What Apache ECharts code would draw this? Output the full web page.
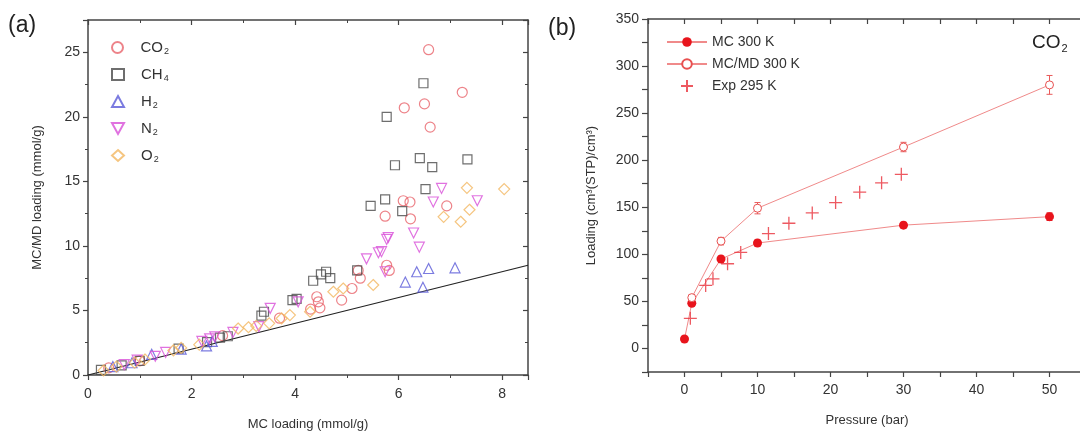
<!DOCTYPE html>
<html><head><meta charset="utf-8">
<script src="https://cdn.jsdelivr.net/npm/echarts@6/dist/echarts.min.js"></script>
<style>html,body{margin:0;padding:0;background:#fff}#c{width:1080px;height:432px}</style>
</head><body><div id="c"></div>
<script>
// ---------- Panel (a): MC/MD loading vs MC loading ----------
const gasNames = ['CO2', 'CH4', 'H2', 'N2', 'O2'];
const co2Pts = [[0.4,0.55],[1.0,1.1],[2.6,3.05],[3.7,4.4],[4.3,5.1],[4.42,6.06],[4.45,5.67],[4.48,5.2],[4.9,5.8],[5.1,6.7],[5.26,7.5],[5.22,8.1],[5.77,8.5],[5.82,8.1],[5.74,12.3],[6.09,13.5],[6.22,13.4],[6.23,12.1],[6.93,13.1],[6.11,20.7],[6.5,21.0],[6.61,19.2],[6.58,25.2],[7.23,21.9]];
const ch4Pts = [[0.25,0.4],[0.65,0.75],[1.0,1.1],[1.75,2.05],[2.3,2.55],[2.55,2.9],[2.7,3.0],[3.35,4.6],[3.4,4.9],[3.95,5.8],[4.03,5.9],[4.35,7.3],[4.5,7.8],[4.6,8.0],[4.68,7.5],[5.2,8.1],[5.46,13.1],[5.74,13.6],[5.77,20.0],[5.93,16.25],[6.07,12.7],[6.41,16.8],[6.48,22.6],[6.52,14.4],[6.65,16.1],[7.33,16.7]];
const h2Pts = [[0.48,0.65],[0.85,0.95],[1.23,1.6],[1.8,2.0],[2.29,2.25],[2.4,2.6],[6.13,7.2],[6.35,8.0],[6.58,8.25],[7.09,8.3],[6.47,6.8]];
const n2Pts = [[0.7,0.8],[0.95,1.15],[1.3,1.45],[1.5,1.75],[2.2,2.6],[2.35,2.8],[2.45,2.95],[2.8,3.3],[3.3,3.75],[3.52,5.16],[4.06,5.67],[5.38,9.0],[5.61,9.47],[5.77,10.5],[5.67,9.55],[5.8,10.65],[6.29,11.0],[6.4,9.9],[5.74,8.0],[6.67,13.4],[6.83,14.45],[7.52,13.5]];
const o2Pts = [[0.3,0.35],[0.55,0.65],[0.9,0.95],[1.1,1.2],[1.65,1.9],[1.8,2.1],[2.15,2.35],[2.9,3.6],[3.1,3.7],[3.25,3.8],[3.5,4.0],[3.74,4.38],[3.9,4.64],[4.29,4.9],[4.74,6.45],[4.93,6.7],[5.51,6.97],[6.87,12.25],[7.2,11.87],[7.37,12.8],[7.32,14.5],[8.04,14.4]];
const parityX = [0, 8.5];

// ---------- Panel (b): CO2 loading vs pressure ----------
const seriesBNames = ['MC 300 K', 'MC/MD 300 K', 'Exp 295 K'];
const mcP = [0, 1, 5, 10, 30, 50];
const mcLoad = [10, 48, 95, 112, 131, 140];
const mcErr = [0, 2, 3, 3, 3, 4];
const mcmdP = [1, 5, 10, 30, 50];
const mcmdLoad = [54, 114, 149, 214, 280];
const mcmdErr = [3, 4, 6, 5, 10];
const expP = [0.8, 2.9, 3.9, 5.9, 7.7, 11.5, 14.3, 17.5, 20.7, 24, 27, 29.7];
const expLoad = [32, 67, 74, 90, 102, 122, 133, 144, 155, 166, 176, 185];

const gasColors = ['#e8646c', '#4a4a4a', '#5a5ad8', '#d84fd8', '#f2b660'];
const gasSymbols = ['circle', 'rect', 'triangle', 'path://M0,0L10,0L5,9Z', 'diamond'];
const gasSizes = [10, 9, 10, 10, 11];
const gasData = [co2Pts, ch4Pts, h2Pts, n2Pts, o2Pts];

const FONT = 'Liberation Sans, Arial, sans-serif';
const axisCol = '#444';
const txtCol = '#333';

function subName(name) {
  return '{n|' + name.slice(0, -1) + '}{s|' + name.slice(-1) + '}';
}

const baseAxis = {
  axisLine: {show: true, onZero: false, lineStyle: {color: axisCol, width: 1.5}},
  splitLine: {show: false},
  axisLabel: {color: txtCol, fontSize: 14, fontFamily: FONT},
  axisTick: {show: true, length: 5, lineStyle: {color: axisCol, width: 1.2}},
  minorTick: {show: true, splitNumber: 2, length: 3, lineStyle: {color: axisCol, width: 1}}
};
function ax(extra) { return Object.assign({}, JSON.parse(JSON.stringify(baseAxis)), extra); }
function mirror(extra) {
  return Object.assign(ax({}), {axisLabel: {show: false}, axisTick: {show: true, inside: true, length: 5, lineStyle: {color: axisCol, width: 1.2}},
    minorTick: {show: true, splitNumber: 2, length: 3, lineStyle: {color: axisCol}}}, extra);
}

const chart = echarts.init(document.getElementById('c'), null, {renderer: 'canvas'});

const series = [];
gasNames.forEach((g, i) => {
  series.push({
    name: g, type: 'scatter', xAxisIndex: 0, yAxisIndex: 0,
    symbol: gasSymbols[i], symbolSize: gasSizes[i],
    itemStyle: {color: 'rgba(255,255,255,0)', borderColor: gasColors[i], borderWidth: 1.2},
    data: gasData[i], z: 3
  });
});
series.push({
  name: 'parity', type: 'line', xAxisIndex: 0, yAxisIndex: 0, symbol: 'none',
  data: parityX.map(v => [v, v]), lineStyle: {color: '#222', width: 1.2}, z: 2, silent: true
});

const redLine = '#f08a8a';
const red = '#e8141c';
function errSeries(xs, ys, es, col) {
  return {
    type: 'custom', xAxisIndex: 2, yAxisIndex: 2, z: 4, silent: true,
    data: xs.map((x, i) => [x, ys[i], es[i]]),
    renderItem: function (params, api) {
      const x = api.value(0), y = api.value(1), e = api.value(2);
      if (!e) return null;
      const t = api.coord([x, y + e]), b = api.coord([x, y - e]);
      const st = {stroke: col, lineWidth: 1};
      return {type: 'group', children: [
        {type: 'line', shape: {x1: t[0], y1: t[1], x2: b[0], y2: b[1]}, style: st},
        {type: 'line', shape: {x1: t[0] - 3, y1: t[1], x2: t[0] + 3, y2: t[1]}, style: st},
        {type: 'line', shape: {x1: b[0] - 3, y1: b[1], x2: b[0] + 3, y2: b[1]}, style: st}
      ]};
    }
  };
}
series.push(errSeries(mcP, mcLoad, mcErr, red));
series.push(errSeries(mcmdP, mcmdLoad, mcmdErr, '#e85a5a'));
series.push({
  name: seriesBNames[0], type: 'line', xAxisIndex: 2, yAxisIndex: 2,
  data: mcP.map((p, i) => [p, mcLoad[i]]),
  symbol: 'circle', symbolSize: 9, itemStyle: {color: red},
  lineStyle: {color: redLine, width: 1}, z: 5
});
series.push({
  name: seriesBNames[1], type: 'line', xAxisIndex: 2, yAxisIndex: 2,
  data: mcmdP.map((p, i) => [p, mcmdLoad[i]]),
  symbol: 'circle', symbolSize: 8,
  itemStyle: {color: '#fff', borderColor: '#e85050', borderWidth: 1},
  lineStyle: {color: redLine, width: 1}, z: 5
});
series.push({
  name: seriesBNames[2], type: 'scatter', xAxisIndex: 2, yAxisIndex: 2,
  data: expP.map((p, i) => [p, expLoad[i]]),
  symbol: 'path://M5,0L5,10M0,5L10,5', symbolSize: 13,
  itemStyle: {color: 'rgba(0,0,0,0)', borderColor: '#e8303a', borderWidth: 1.3}, z: 5
});

const legendsA = gasNames.map((g, i) => ({
  data: [g], orient: 'vertical', left: 111, top: 40 + i * 27, padding: 0,
  itemWidth: 12, itemHeight: 11, itemGap: 0,
  formatter: subName,
  textStyle: {color: txtCol, fontFamily: FONT, rich: {
    n: {fontSize: 15, fontFamily: FONT, color: txtCol, padding: [0, 0, 0, 12]},
    s: {fontSize: 9, fontFamily: FONT, color: txtCol, padding: [8, 0, 0, 1]}
  }}
}));
const legendsB = seriesBNames.map((n, i) => ({
  data: [n], left: i === 2 ? 680 : 666, top: 35 + i * 22, padding: 0,
  itemWidth: 40, itemHeight: 12, itemGap: 0,
  textStyle: {color: txtCol, fontFamily: FONT, fontSize: 14}
}));

const option = {
  backgroundColor: '#fff',
  animation: false,
  grid: [
    {left: 88, top: 20, width: 440, height: 355, outerBoundsMode: 'none'},
    {left: 648, top: 19, width: 438, height: 353, outerBoundsMode: 'none'}
  ],
  xAxis: [
    ax({gridIndex: 0, type: 'value', min: 0, max: 8.5, interval: 2,
      axisLabel: {color: txtCol, fontSize: 14, fontFamily: FONT, margin: 12, showMaxLabel: false},
      name: 'MC loading (mmol/g)', nameLocation: 'middle', nameGap: 43,
      nameTextStyle: {color: txtCol, fontSize: 13, fontFamily: FONT}}),
    mirror({gridIndex: 0, type: 'value', position: 'top', min: 0, max: 8.5, interval: 2}),
    ax({gridIndex: 1, type: 'value', min: -5, max: 55, interval: 5,
      axisLabel: {color: txtCol, fontSize: 14, fontFamily: FONT, margin: 11,
        formatter: v => (v >= 0 && v % 10 === 0) ? String(v) : ''},
      minorTick: {show: false},
      name: 'Pressure (bar)', nameLocation: 'middle', nameGap: 42,
      nameTextStyle: {color: txtCol, fontSize: 13, fontFamily: FONT}}),
    mirror({gridIndex: 1, type: 'value', position: 'top', min: -5, max: 55, interval: 5, minorTick: {show: false}})
  ],
  yAxis: [
    ax({gridIndex: 0, type: 'value', min: 0, max: 27.5, interval: 5,
      axisLabel: {color: txtCol, fontSize: 14, fontFamily: FONT, margin: 8, showMaxLabel: false},
      name: 'MC/MD loading (mmol/g)', nameLocation: 'middle', nameGap: 44,
      nameTextStyle: {color: txtCol, fontSize: 13, fontFamily: FONT}}),
    mirror({gridIndex: 0, type: 'value', position: 'right', min: 0, max: 27.5, interval: 5}),
    ax({gridIndex: 1, type: 'value', min: -25, max: 350, interval: 25,
      axisTick: {show: true, length: 6, lineStyle: {color: axisCol, width: 1.2}},
      axisLabel: {color: txtCol, fontSize: 14, fontFamily: FONT, margin: 9,
        formatter: v => (v >= 0 && v % 50 === 0) ? String(v) : ''},
      minorTick: {show: false},
      name: 'Loading (cm³(STP)/cm³)', nameLocation: 'middle', nameGap: 50,
      nameTextStyle: {color: txtCol, fontSize: 13, fontFamily: FONT}}),
    mirror({gridIndex: 1, type: 'value', position: 'right', min: -25, max: 350, interval: 25, minorTick: {show: false}})
  ],
  legend: legendsA.concat(legendsB),
  graphic: [
    {type: 'text', left: 8, top: 14, style: {text: '(a)', fontSize: 23, fontFamily: FONT, fill: '#222'}},
    {type: 'text', left: 548, top: 17, style: {text: '(b)', fontSize: 23, fontFamily: FONT, fill: '#222'}},
    {type: 'text', left: 1032, top: 33, style: {text: '{a|CO}{b|2}', rich: {
      a: {fontSize: 19, fontFamily: FONT, fill: '#222', color: '#222'},
      b: {fontSize: 11, fontFamily: FONT, fill: '#222', color: '#222', padding: [12, 0, 0, 1]}}}}
  ],
  series: series
};
chart.setOption(option);
</script></body></html>
